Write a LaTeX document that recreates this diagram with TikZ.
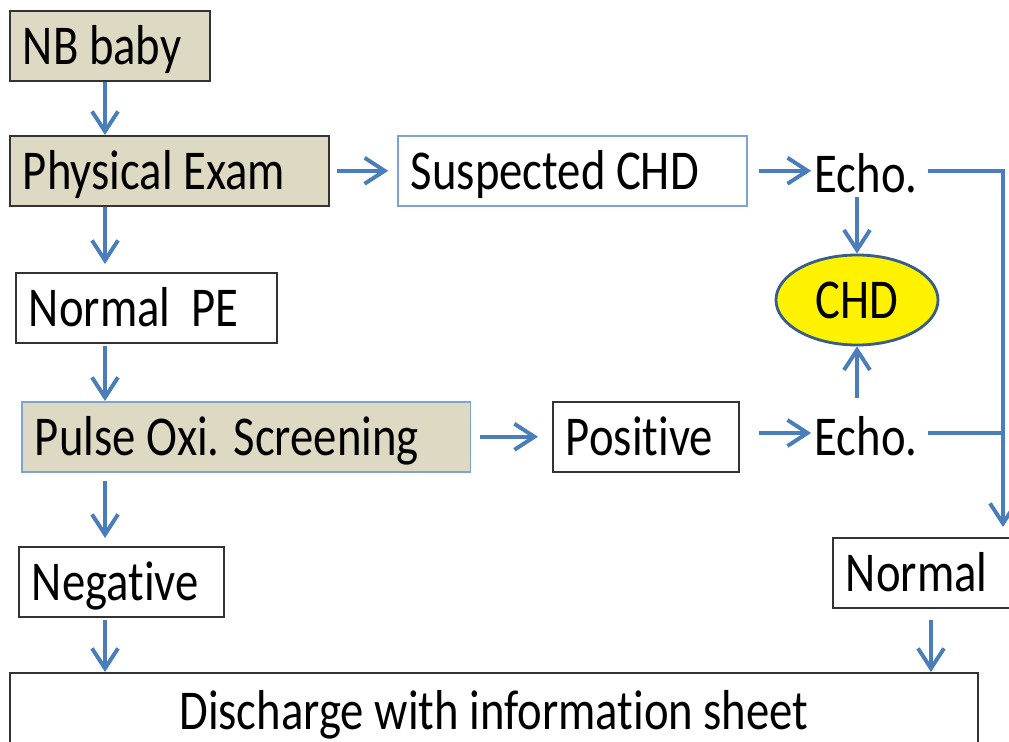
\documentclass[tikz,border=0pt]{standalone}
\usepackage{fontspec}
\setmainfont[FakeStretch=0.83, Ligatures=NoCommon]{Carlito}
\usetikzlibrary{arrows.meta,positioning,shapes.geometric}
\definecolor{fctan}{HTML}{DDD9C3}
\definecolor{fcblue}{HTML}{4A7EBB}
\definecolor{fcedge}{HTML}{7FA3D1}
\definecolor{fcdark}{HTML}{385D8A}
\tikzset{
  fcbox/.style={draw=black!80, line width=1.1pt, fill=white, anchor=north west, align=flush left, inner xsep=0.33cm, inner ysep=0pt, text height=1cm, text depth=0.05cm, minimum height=1.75cm, font=\fontsize{40}{48}\selectfont},
  fctanbox/.style={fcbox, fill=fctan},
  fcbluebox/.style={fcbox, draw=fcedge},
  fctext/.style={inner sep=0pt, font=\fontsize{40}{48}\selectfont},
  fcoval/.style={ellipse, draw=fcdark, line width=2pt, fill=yellow, minimum width=4.05cm, minimum height=2.25cm, font=\fontsize{40}{48}\selectfont},
  fcline/.style={draw=fcblue, line width=2.8pt},
  fcarrow/.style={fcline, -{Straight Barb[length=5mm,width=6.5mm]}}
}
\begin{document}
\begin{tikzpicture}[x=0.025cm, y=-0.025cm]
  \useasboundingbox (0,0) rectangle (1009,742);
  \node[fctanbox, text width=4.35cm] (nb) at (9,10) {NB baby};
  \node[fctanbox, text width=7.325cm] (pe) at (9,135) {Physical Exam};
  \node[fcbluebox, text width=8.075cm] (susp) at (397,135) {Suspected CHD};
  \node[fctext] (echoa) at (866,173) {Echo.};
  \node[fcoval] (chd) at (857,300) {CHD};
  \node[fcbox, text width=5.875cm] (npe) at (15,272) {Normal\ \ PE};
  \node[fcbluebox, fill=fctan, text width=10.55cm] (pulse) at (21,401) {Pulse Oxi. Screening};
  \node[fcbox, text width=4cm] (pos) at (552,401) {Positive};
  \node[fctext] (echob) at (866,436) {Echo.};
  \node[fcbox, text width=4.475cm] (neg) at (18,546) {Negative};
  \node[fcbox, text width=4.25cm] (norm) at (832,537) {Normal};
  \node[fcbox, align=center, minimum width=24.2cm, minimum height=1.9cm] (dis) at (9,672) {Discharge with information sheet};
  \coordinate (colx) at (105,0);
  \coordinate (split) at (1003,433);
  \draw[fcarrow] (nb.south -| colx) -- (pe.north -| colx);
  \draw[fcarrow, shorten >=0.2cm] (pe.south -| colx) -- (npe.north -| colx);
  \draw[fcarrow, shorten <=2pt] (npe.south -| colx) -- (pulse.north -| colx);
  \draw[fcarrow, shorten <=0.2cm, shorten >=0.2cm] (pulse.south -| colx) -- (neg.north -| colx);
  \draw[fcarrow, shorten <=2pt] (neg.south -| colx) -- (dis.north -| colx);
  \draw[fcarrow, shorten <=0.18cm, shorten >=0.22cm] (pe.east) -- (susp.west);
  \draw[fcarrow, shorten <=0.28cm, shorten >=0.08cm] (susp.east) -- (susp.east -| echoa.west);
  \draw[fcarrow, shorten <=0.22cm, shorten >=0.35cm] (pulse.east) -- (pos.west);
  \draw[fcarrow, shorten <=0.48cm, shorten >=0.08cm] (pos.east |- split) -- (echob.west |- split);
  \draw[fcarrow, shorten <=0.1cm] (echoa.south -| chd.north) -- (chd.north);
  \draw[fcarrow, shorten <=0.45cm] (echob.north -| chd.south) -- (chd.south);
  \draw[fcarrow, shorten <=0.25cm, shorten >=0.25cm] (susp.east -| echoa.east) -| (split |- norm.north);
  \draw[fcline, shorten <=0.25cm] (echob.east |- split) -- (split);
  \draw[fcarrow, shorten <=0.28cm] (norm.south) -- (norm.south |- dis.north);
\end{tikzpicture}
\end{document}
